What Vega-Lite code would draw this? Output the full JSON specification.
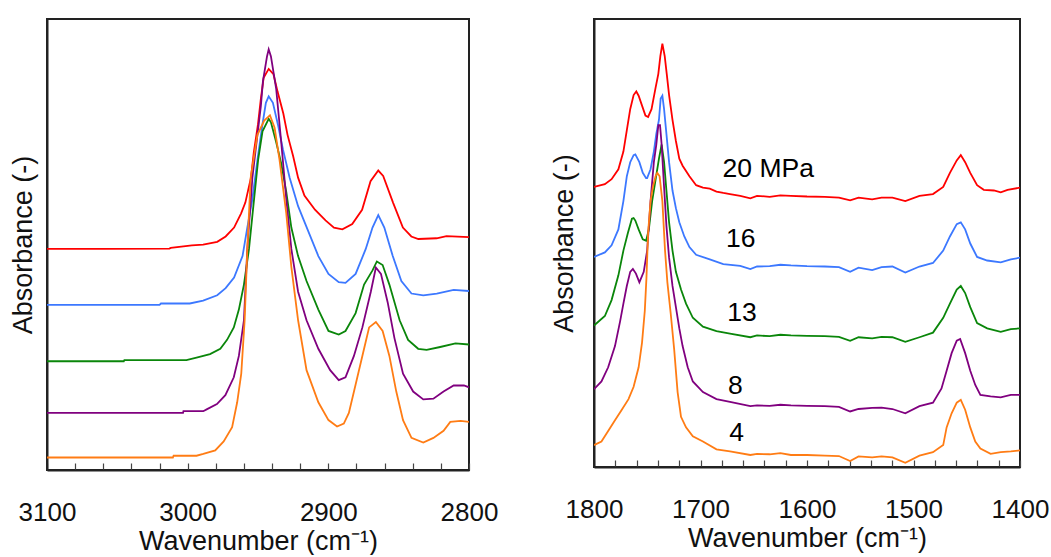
{
  "$schema": "https://vega.github.io/schema/vega-lite/v6.json",
  "padding": {"left": 8, "top": 18, "right": 0, "bottom": 0},
  "spacing": 50,
  "datasets": {
    "ch": [
      {"p":"20","w":3100,"a":0.620},{"p":"20","w":3060,"a":0.620},{"p":"20","w":3013,"a":0.621},{"p":"20","w":3012,"a":0.623},{"p":"20","w":2997,"a":0.630},{"p":"20","w":2989,"a":0.632},{"p":"20","w":2979,"a":0.640},{"p":"20","w":2973,"a":0.655},{"p":"20","w":2967,"a":0.680},{"p":"20","w":2962,"a":0.720},{"p":"20","w":2959,"a":0.750},{"p":"20","w":2955,"a":0.820},{"p":"20","w":2953,"a":0.890},{"p":"20","w":2950,"a":0.970},{"p":"20","w":2948,"a":1.040},{"p":"20","w":2946,"a":1.100},{"p":"20","w":2942.4,"a":1.125},{"p":"20","w":2939,"a":1.110},{"p":"20","w":2936,"a":1.060},{"p":"20","w":2932,"a":1.000},{"p":"20","w":2929,"a":0.940},{"p":"20","w":2925,"a":0.880},{"p":"20","w":2921.5,"a":0.820},{"p":"20","w":2917,"a":0.770},{"p":"20","w":2909.5,"a":0.730},{"p":"20","w":2902,"a":0.700},{"p":"20","w":2896,"a":0.680},{"p":"20","w":2890,"a":0.675},{"p":"20","w":2883,"a":0.690},{"p":"20","w":2876,"a":0.730},{"p":"20","w":2870,"a":0.810},{"p":"20","w":2864.5,"a":0.840},{"p":"20","w":2861,"a":0.825},{"p":"20","w":2854,"a":0.750},{"p":"20","w":2847,"a":0.680},{"p":"20","w":2841,"a":0.655},{"p":"20","w":2836,"a":0.648},{"p":"20","w":2823,"a":0.650},{"p":"20","w":2816,"a":0.656},{"p":"20","w":2800,"a":0.653},
      {"p":"16","w":3100,"a":0.463},{"p":"16","w":3020,"a":0.463},{"p":"16","w":3019,"a":0.467},{"p":"16","w":2998.5,"a":0.467},{"p":"16","w":2989,"a":0.475},{"p":"16","w":2979,"a":0.490},{"p":"16","w":2973,"a":0.510},{"p":"16","w":2967,"a":0.540},{"p":"16","w":2961,"a":0.600},{"p":"16","w":2957.6,"a":0.680},{"p":"16","w":2954,"a":0.760},{"p":"16","w":2950.4,"a":0.870},{"p":"16","w":2946.8,"a":0.970},{"p":"16","w":2944.4,"a":1.030},{"p":"16","w":2942.4,"a":1.048},{"p":"16","w":2939.4,"a":1.030},{"p":"16","w":2935.9,"a":0.970},{"p":"16","w":2932.3,"a":0.900},{"p":"16","w":2927.5,"a":0.820},{"p":"16","w":2921.5,"a":0.740},{"p":"16","w":2914.3,"a":0.670},{"p":"16","w":2907.1,"a":0.600},{"p":"16","w":2899.9,"a":0.550},{"p":"16","w":2892.6,"a":0.527},{"p":"16","w":2887.8,"a":0.525},{"p":"16","w":2880.6,"a":0.550},{"p":"16","w":2873.4,"a":0.620},{"p":"16","w":2868.6,"a":0.680},{"p":"16","w":2864.5,"a":0.715},{"p":"16","w":2860.2,"a":0.680},{"p":"16","w":2854.2,"a":0.600},{"p":"16","w":2848.1,"a":0.530},{"p":"16","w":2840.9,"a":0.495},{"p":"16","w":2832.5,"a":0.490},{"p":"16","w":2822.9,"a":0.495},{"p":"16","w":2810.9,"a":0.505},{"p":"16","w":2800,"a":0.502},
      {"p":"13","w":3100,"a":0.305},{"p":"13","w":3045.4,"a":0.305},{"p":"13","w":3045,"a":0.308},{"p":"13","w":3000.9,"a":0.308},{"p":"13","w":2993.7,"a":0.315},{"p":"13","w":2984.1,"a":0.325},{"p":"13","w":2976.8,"a":0.340},{"p":"13","w":2972,"a":0.365},{"p":"13","w":2967.2,"a":0.400},{"p":"13","w":2963.6,"a":0.450},{"p":"13","w":2960,"a":0.520},{"p":"13","w":2956.4,"a":0.620},{"p":"13","w":2953.3,"a":0.740},{"p":"13","w":2949.9,"a":0.870},{"p":"13","w":2946.8,"a":0.950},{"p":"13","w":2942.4,"a":0.985},{"p":"13","w":2940.8,"a":0.975},{"p":"13","w":2937.1,"a":0.920},{"p":"13","w":2933.5,"a":0.860},{"p":"13","w":2929.9,"a":0.780},{"p":"13","w":2926.3,"a":0.680},{"p":"13","w":2921.5,"a":0.600},{"p":"13","w":2915.5,"a":0.530},{"p":"13","w":2907.1,"a":0.450},{"p":"13","w":2899.9,"a":0.390},{"p":"13","w":2892.6,"a":0.380},{"p":"13","w":2887.8,"a":0.390},{"p":"13","w":2880.6,"a":0.440},{"p":"13","w":2874.6,"a":0.520},{"p":"13","w":2868.6,"a":0.560},{"p":"13","w":2865.5,"a":0.585},{"p":"13","w":2861.4,"a":0.575},{"p":"13","w":2856.6,"a":0.520},{"p":"13","w":2849.3,"a":0.420},{"p":"13","w":2843.3,"a":0.365},{"p":"13","w":2836.1,"a":0.340},{"p":"13","w":2830.1,"a":0.337},{"p":"13","w":2820.5,"a":0.345},{"p":"13","w":2809.6,"a":0.355},{"p":"13","w":2800,"a":0.352},
      {"p":"8","w":3100,"a":0.160},{"p":"8","w":3003.3,"a":0.160},{"p":"8","w":3003,"a":0.165},{"p":"8","w":2988.9,"a":0.165},{"p":"8","w":2986.5,"a":0.170},{"p":"8","w":2979.2,"a":0.185},{"p":"8","w":2973.2,"a":0.210},{"p":"8","w":2967.2,"a":0.260},{"p":"8","w":2963.6,"a":0.320},{"p":"8","w":2960,"a":0.420},{"p":"8","w":2957.6,"a":0.620},{"p":"8","w":2954,"a":0.820},{"p":"8","w":2948,"a":1.020},{"p":"8","w":2946.5,"a":1.090},{"p":"8","w":2943.6,"a":1.160},{"p":"8","w":2942.4,"a":1.180},{"p":"8","w":2940.8,"a":1.160},{"p":"8","w":2937.1,"a":1.070},{"p":"8","w":2933.5,"a":0.920},{"p":"8","w":2929.9,"a":0.760},{"p":"8","w":2926.3,"a":0.620},{"p":"8","w":2921.5,"a":0.500},{"p":"8","w":2915.5,"a":0.420},{"p":"8","w":2907.1,"a":0.340},{"p":"8","w":2898.7,"a":0.280},{"p":"8","w":2892.6,"a":0.252},{"p":"8","w":2887.8,"a":0.260},{"p":"8","w":2881.8,"a":0.320},{"p":"8","w":2875.8,"a":0.400},{"p":"8","w":2869.8,"a":0.500},{"p":"8","w":2866.2,"a":0.568},{"p":"8","w":2862.6,"a":0.550},{"p":"8","w":2857.8,"a":0.470},{"p":"8","w":2853,"a":0.370},{"p":"8","w":2846.9,"a":0.270},{"p":"8","w":2839.7,"a":0.220},{"p":"8","w":2832.5,"a":0.198},{"p":"8","w":2825.3,"a":0.200},{"p":"8","w":2818.1,"a":0.220},{"p":"8","w":2810.9,"a":0.237},{"p":"8","w":2803.6,"a":0.237},{"p":"8","w":2800,"a":0.232},
      {"p":"4","w":3100,"a":0.035},{"p":"4","w":3010.5,"a":0.035},{"p":"4","w":3010,"a":0.040},{"p":"4","w":2993.7,"a":0.040},{"p":"4","w":2988.9,"a":0.045},{"p":"4","w":2980.4,"a":0.055},{"p":"4","w":2974.4,"a":0.080},{"p":"4","w":2968.4,"a":0.120},{"p":"4","w":2964.8,"a":0.190},{"p":"4","w":2961.9,"a":0.270},{"p":"4","w":2959.5,"a":0.420},{"p":"4","w":2957.6,"a":0.620},{"p":"4","w":2955.2,"a":0.820},{"p":"4","w":2950.4,"a":0.940},{"p":"4","w":2945.6,"a":0.980},{"p":"4","w":2941.5,"a":0.995},{"p":"4","w":2938.2,"a":0.960},{"p":"4","w":2934.7,"a":0.870},{"p":"4","w":2929.9,"a":0.720},{"p":"4","w":2926.3,"a":0.570},{"p":"4","w":2921.5,"a":0.420},{"p":"4","w":2915.5,"a":0.280},{"p":"4","w":2907.1,"a":0.190},{"p":"4","w":2899.9,"a":0.140},{"p":"4","w":2893.8,"a":0.122},{"p":"4","w":2889,"a":0.130},{"p":"4","w":2885.4,"a":0.160},{"p":"4","w":2880.6,"a":0.240},{"p":"4","w":2874.6,"a":0.340},{"p":"4","w":2871,"a":0.400},{"p":"4","w":2866.2,"a":0.415},{"p":"4","w":2861.4,"a":0.390},{"p":"4","w":2856.6,"a":0.320},{"p":"4","w":2851.7,"a":0.220},{"p":"4","w":2846.9,"a":0.140},{"p":"4","w":2840.9,"a":0.090},{"p":"4","w":2832.5,"a":0.077},{"p":"4","w":2825.3,"a":0.090},{"p":"4","w":2818.1,"a":0.110},{"p":"4","w":2813.3,"a":0.135},{"p":"4","w":2806,"a":0.138},{"p":"4","w":2800,"a":0.135}
    ],
    "co": [
      {"p":"20","w":1800,"a":0.792},{"p":"20","w":1789.8,"a":0.800},{"p":"20","w":1783.5,"a":0.814},{"p":"20","w":1777.1,"a":0.842},{"p":"20","w":1772.4,"a":0.892},{"p":"20","w":1769.2,"a":0.952},{"p":"20","w":1766.0,"a":1.012},{"p":"20","w":1762.8,"a":1.052},{"p":"20","w":1760.3,"a":1.062},{"p":"20","w":1758.1,"a":1.050},{"p":"20","w":1754.9,"a":1.022},{"p":"20","w":1751.7,"a":0.994},{"p":"20","w":1749.2,"a":0.990},{"p":"20","w":1746.0,"a":1.012},{"p":"20","w":1742.2,"a":1.072},{"p":"20","w":1739.6,"a":1.112},{"p":"20","w":1737.7,"a":1.162},{"p":"20","w":1735.8,"a":1.197},{"p":"20","w":1733.6,"a":1.162},{"p":"20","w":1731.7,"a":1.112},{"p":"20","w":1729.5,"a":1.052},{"p":"20","w":1726.3,"a":0.982},{"p":"20","w":1723.1,"a":0.922},{"p":"20","w":1719.9,"a":0.872},{"p":"20","w":1716.8,"a":0.852},{"p":"20","w":1710.4,"a":0.822},{"p":"20","w":1704.1,"a":0.797},{"p":"20","w":1697.7,"a":0.790},{"p":"20","w":1691.3,"a":0.787},{"p":"20","w":1685.0,"a":0.779},{"p":"20","w":1678.6,"a":0.775},{"p":"20","w":1672.3,"a":0.772},{"p":"20","w":1662.7,"a":0.767},{"p":"20","w":1653.2,"a":0.760},{"p":"20","w":1646.9,"a":0.767},{"p":"20","w":1635,"a":0.764},{"p":"20","w":1625,"a":0.768},{"p":"20","w":1615.1,"a":0.767},{"p":"20","w":1600,"a":0.765},{"p":"20","w":1583.3,"a":0.764},{"p":"20","w":1570,"a":0.762},{"p":"20","w":1559.5,"a":0.754},{"p":"20","w":1551.6,"a":0.762},{"p":"20","w":1538.8,"a":0.757},{"p":"20","w":1530,"a":0.762},{"p":"20","w":1519.8,"a":0.762},{"p":"20","w":1507.7,"a":0.752},{"p":"20","w":1494.4,"a":0.767},{"p":"20","w":1481.7,"a":0.772},{"p":"20","w":1472.1,"a":0.792},{"p":"20","w":1465.8,"a":0.832},{"p":"20","w":1459.4,"a":0.867},{"p":"20","w":1455.6,"a":0.882},{"p":"20","w":1451.5,"a":0.862},{"p":"20","w":1446.7,"a":0.832},{"p":"20","w":1440.3,"a":0.797},{"p":"20","w":1434.0,"a":0.784},{"p":"20","w":1424.5,"a":0.782},{"p":"20","w":1418.1,"a":0.777},{"p":"20","w":1411.7,"a":0.784},{"p":"20","w":1400,"a":0.790},
      {"p":"16","w":1800,"a":0.594},{"p":"16","w":1789.8,"a":0.607},{"p":"16","w":1783.5,"a":0.627},{"p":"16","w":1777.1,"a":0.672},{"p":"16","w":1772.4,"a":0.752},{"p":"16","w":1769.2,"a":0.822},{"p":"16","w":1766.0,"a":0.862},{"p":"16","w":1762.8,"a":0.882},{"p":"16","w":1761.2,"a":0.884},{"p":"16","w":1757.4,"a":0.862},{"p":"16","w":1754.2,"a":0.832},{"p":"16","w":1751.1,"a":0.817},{"p":"16","w":1750.1,"a":0.817},{"p":"16","w":1746.9,"a":0.842},{"p":"16","w":1743.8,"a":0.892},{"p":"16","w":1741.5,"a":0.942},{"p":"16","w":1739.0,"a":0.982},{"p":"16","w":1737.4,"a":1.042},{"p":"16","w":1735.8,"a":1.050},{"p":"16","w":1734.2,"a":1.012},{"p":"16","w":1732.0,"a":0.942},{"p":"16","w":1729.5,"a":0.862},{"p":"16","w":1726.3,"a":0.782},{"p":"16","w":1723.1,"a":0.732},{"p":"16","w":1719.9,"a":0.692},{"p":"16","w":1715.2,"a":0.652},{"p":"16","w":1710.4,"a":0.622},{"p":"16","w":1704.1,"a":0.600},{"p":"16","w":1691.3,"a":0.587},{"p":"16","w":1678.6,"a":0.574},{"p":"16","w":1662.7,"a":0.569},{"p":"16","w":1653.2,"a":0.560},{"p":"16","w":1646.9,"a":0.567},{"p":"16","w":1635,"a":0.568},{"p":"16","w":1625,"a":0.572},{"p":"16","w":1615.1,"a":0.570},{"p":"16","w":1600,"a":0.568},{"p":"16","w":1583.3,"a":0.567},{"p":"16","w":1570,"a":0.565},{"p":"16","w":1559.5,"a":0.552},{"p":"16","w":1551.6,"a":0.564},{"p":"16","w":1538.8,"a":0.557},{"p":"16","w":1530,"a":0.565},{"p":"16","w":1519.8,"a":0.567},{"p":"16","w":1507.7,"a":0.550},{"p":"16","w":1494.4,"a":0.567},{"p":"16","w":1481.7,"a":0.577},{"p":"16","w":1472.1,"a":0.612},{"p":"16","w":1465.8,"a":0.652},{"p":"16","w":1459.4,"a":0.687},{"p":"16","w":1455.6,"a":0.692},{"p":"16","w":1451.5,"a":0.672},{"p":"16","w":1446.7,"a":0.632},{"p":"16","w":1440.3,"a":0.594},{"p":"16","w":1430.8,"a":0.584},{"p":"16","w":1418.1,"a":0.579},{"p":"16","w":1408.6,"a":0.587},{"p":"16","w":1400,"a":0.592},
      {"p":"13","w":1800,"a":0.400},{"p":"13","w":1789.8,"a":0.427},{"p":"13","w":1783.5,"a":0.472},{"p":"13","w":1777.1,"a":0.542},{"p":"13","w":1772.4,"a":0.612},{"p":"13","w":1768.2,"a":0.662},{"p":"13","w":1764.4,"a":0.702},{"p":"13","w":1762.8,"a":0.704},{"p":"13","w":1761.2,"a":0.697},{"p":"13","w":1758.1,"a":0.672},{"p":"13","w":1754.2,"a":0.644},{"p":"13","w":1751.1,"a":0.640},{"p":"13","w":1748.5,"a":0.672},{"p":"13","w":1745.4,"a":0.752},{"p":"13","w":1742.2,"a":0.812},{"p":"13","w":1739.0,"a":0.872},{"p":"13","w":1736.5,"a":0.912},{"p":"13","w":1734.2,"a":0.862},{"p":"13","w":1732.0,"a":0.782},{"p":"13","w":1729.5,"a":0.692},{"p":"13","w":1726.3,"a":0.612},{"p":"13","w":1723.1,"a":0.552},{"p":"13","w":1718.3,"a":0.502},{"p":"13","w":1713.6,"a":0.462},{"p":"13","w":1707.2,"a":0.422},{"p":"13","w":1697.7,"a":0.397},{"p":"13","w":1685.0,"a":0.384},{"p":"13","w":1672.3,"a":0.377},{"p":"13","w":1653.2,"a":0.367},{"p":"13","w":1646.9,"a":0.372},{"p":"13","w":1635,"a":0.370},{"p":"13","w":1625,"a":0.374},{"p":"13","w":1615.1,"a":0.372},{"p":"13","w":1600,"a":0.371},{"p":"13","w":1583.3,"a":0.370},{"p":"13","w":1570,"a":0.368},{"p":"13","w":1559.5,"a":0.357},{"p":"13","w":1551.6,"a":0.367},{"p":"13","w":1538.8,"a":0.364},{"p":"13","w":1530,"a":0.368},{"p":"13","w":1519.8,"a":0.367},{"p":"13","w":1507.7,"a":0.354},{"p":"13","w":1494.4,"a":0.367},{"p":"13","w":1481.7,"a":0.380},{"p":"13","w":1472.1,"a":0.422},{"p":"13","w":1465.8,"a":0.462},{"p":"13","w":1459.4,"a":0.502},{"p":"13","w":1455.6,"a":0.512},{"p":"13","w":1451.5,"a":0.492},{"p":"13","w":1446.7,"a":0.452},{"p":"13","w":1440.3,"a":0.407},{"p":"13","w":1430.8,"a":0.392},{"p":"13","w":1418.1,"a":0.382},{"p":"13","w":1408.6,"a":0.390},{"p":"13","w":1400,"a":0.392},
      {"p":"8","w":1800,"a":0.220},{"p":"8","w":1793.0,"a":0.242},{"p":"8","w":1786.7,"a":0.282},{"p":"8","w":1780.3,"a":0.342},{"p":"8","w":1775.5,"a":0.412},{"p":"8","w":1772.4,"a":0.462},{"p":"8","w":1769.2,"a":0.512},{"p":"8","w":1766.0,"a":0.552},{"p":"8","w":1763.5,"a":0.560},{"p":"8","w":1760.6,"a":0.547},{"p":"8","w":1757.4,"a":0.522},{"p":"8","w":1753.3,"a":0.552},{"p":"8","w":1750.1,"a":0.612},{"p":"8","w":1746.9,"a":0.752},{"p":"8","w":1743.8,"a":0.862},{"p":"8","w":1741.5,"a":0.912},{"p":"8","w":1739.6,"a":0.967},{"p":"8","w":1738.0,"a":0.967},{"p":"8","w":1736.5,"a":0.912},{"p":"8","w":1734.2,"a":0.792},{"p":"8","w":1732.0,"a":0.682},{"p":"8","w":1729.5,"a":0.592},{"p":"8","w":1726.3,"a":0.512},{"p":"8","w":1723.1,"a":0.452},{"p":"8","w":1719.9,"a":0.392},{"p":"8","w":1716.8,"a":0.342},{"p":"8","w":1712.0,"a":0.282},{"p":"8","w":1707.2,"a":0.242},{"p":"8","w":1697.7,"a":0.212},{"p":"8","w":1685.0,"a":0.192},{"p":"8","w":1672.3,"a":0.184},{"p":"8","w":1653.2,"a":0.172},{"p":"8","w":1646.9,"a":0.174},{"p":"8","w":1635,"a":0.173},{"p":"8","w":1625,"a":0.176},{"p":"8","w":1615.1,"a":0.174},{"p":"8","w":1600,"a":0.173},{"p":"8","w":1583.3,"a":0.172},{"p":"8","w":1570,"a":0.170},{"p":"8","w":1559.5,"a":0.157},{"p":"8","w":1551.6,"a":0.164},{"p":"8","w":1538.8,"a":0.167},{"p":"8","w":1530,"a":0.168},{"p":"8","w":1519.8,"a":0.164},{"p":"8","w":1507.7,"a":0.152},{"p":"8","w":1494.4,"a":0.172},{"p":"8","w":1481.7,"a":0.182},{"p":"8","w":1473.7,"a":0.222},{"p":"8","w":1468.9,"a":0.272},{"p":"8","w":1464.2,"a":0.322},{"p":"8","w":1459.4,"a":0.357},{"p":"8","w":1456.2,"a":0.362},{"p":"8","w":1451.5,"a":0.322},{"p":"8","w":1446.7,"a":0.272},{"p":"8","w":1442.0,"a":0.232},{"p":"8","w":1437.2,"a":0.204},{"p":"8","w":1427.6,"a":0.200},{"p":"8","w":1418.1,"a":0.197},{"p":"8","w":1408.6,"a":0.204},{"p":"8","w":1400,"a":0.204},
      {"p":"4","w":1800,"a":0.062},{"p":"4","w":1793.0,"a":0.072},{"p":"4","w":1786.7,"a":0.102},{"p":"4","w":1780.3,"a":0.132},{"p":"4","w":1773.9,"a":0.162},{"p":"4","w":1767.6,"a":0.192},{"p":"4","w":1762.8,"a":0.227},{"p":"4","w":1758.1,"a":0.282},{"p":"4","w":1754.9,"a":0.352},{"p":"4","w":1752.3,"a":0.442},{"p":"4","w":1750.8,"a":0.532},{"p":"4","w":1749.2,"a":0.662},{"p":"4","w":1746.9,"a":0.752},{"p":"4","w":1744.7,"a":0.792},{"p":"4","w":1742.2,"a":0.822},{"p":"4","w":1740.6,"a":0.832},{"p":"4","w":1738.4,"a":0.822},{"p":"4","w":1735.8,"a":0.752},{"p":"4","w":1733.3,"a":0.612},{"p":"4","w":1731.1,"a":0.522},{"p":"4","w":1727.9,"a":0.432},{"p":"4","w":1724.7,"a":0.332},{"p":"4","w":1721.5,"a":0.212},{"p":"4","w":1718.3,"a":0.142},{"p":"4","w":1713.6,"a":0.112},{"p":"4","w":1707.2,"a":0.087},{"p":"4","w":1697.7,"a":0.072},{"p":"4","w":1685.0,"a":0.050},{"p":"4","w":1672.3,"a":0.044},{"p":"4","w":1653.2,"a":0.034},{"p":"4","w":1646.9,"a":0.037},{"p":"4","w":1635,"a":0.036},{"p":"4","w":1625,"a":0.039},{"p":"4","w":1615.1,"a":0.034},{"p":"4","w":1600,"a":0.034},{"p":"4","w":1583.3,"a":0.032},{"p":"4","w":1570,"a":0.031},{"p":"4","w":1559.5,"a":0.017},{"p":"4","w":1551.6,"a":0.030},{"p":"4","w":1538.8,"a":0.027},{"p":"4","w":1530,"a":0.030},{"p":"4","w":1519.8,"a":0.027},{"p":"4","w":1507.7,"a":0.012},{"p":"4","w":1494.4,"a":0.032},{"p":"4","w":1481.7,"a":0.042},{"p":"4","w":1472.1,"a":0.062},{"p":"4","w":1468.9,"a":0.112},{"p":"4","w":1464.2,"a":0.152},{"p":"4","w":1459.4,"a":0.182},{"p":"4","w":1455.6,"a":0.190},{"p":"4","w":1451.5,"a":0.162},{"p":"4","w":1446.7,"a":0.112},{"p":"4","w":1442.0,"a":0.072},{"p":"4","w":1437.2,"a":0.052},{"p":"4","w":1427.6,"a":0.037},{"p":"4","w":1418.1,"a":0.042},{"p":"4","w":1408.6,"a":0.044},{"p":"4","w":1400,"a":0.047}
    ],
    "labels": [
      {"w":1679.3,"a":0.842,"t":"20 MPa"},
      {"w":1676.1,"a":0.644,"t":"16"},
      {"w":1674.8,"a":0.436,"t":"13"},
      {"w":1674.2,"a":0.230,"t":"8"},
      {"w":1672.9,"a":0.096,"t":"4"}
    ]
  },
  "hconcat": [
    {
      "width": 422,
      "height": 451,
      "data": {"name": "ch"},
      "mark": {"type": "line", "strokeWidth": 1.8, "clip": true},
      "encoding": {
        "x": {"field": "w", "type": "quantitative",
              "scale": {"domain": [2800, 3100], "reverse": true, "nice": false, "zero": false},
              "axis": {"title": "Wavenumber (cm⁻¹)", "values": [2800,2820,2840,2860,2880,2900,2920,2940,2960,2980,3000,3020,3040,3060,3080,3100],
                       "format": "d", "labelOverlap": false, "labelExpr": "datum.value % 100 === 0 ? datum.label : ''"}},
        "y": {"field": "a", "type": "quantitative",
              "scale": {"domain": [0, 1.265], "nice": false, "zero": false},
              "axis": {"title": "Absorbance (-)", "labels": false, "ticks": false, "titlePadding": 10}},
        "color": {"field": "p", "type": "nominal",
                  "scale": {"domain": ["20","16","13","8","4"], "range": ["#ff0000","#3c78ff","#0a860a","#80007f","#ff7c14"]},
                  "legend": null}
      }
    },
    {
      "width": 426,
      "height": 448,
      "encoding": {
        "x": {"field": "w", "type": "quantitative",
              "scale": {"domain": [1400, 1800], "reverse": true, "nice": false, "zero": false},
              "axis": {"title": "Wavenumber (cm⁻¹)", "values": [1400,1420,1440,1460,1480,1500,1520,1540,1560,1580,1600,1620,1640,1660,1680,1700,1720,1740,1760,1780,1800],
                       "format": "d", "labelOverlap": false, "labelExpr": "datum.value % 100 === 0 ? datum.label : ''"}},
        "y": {"field": "a", "type": "quantitative",
              "scale": {"domain": [0, 1.267], "nice": false, "zero": false},
              "axis": {"title": "Absorbance (-)", "labels": false, "ticks": false, "titlePadding": 16}}
      },
      "layer": [
        {
          "data": {"name": "co"},
          "mark": {"type": "line", "strokeWidth": 1.8, "clip": true},
          "encoding": {
            "color": {"field": "p", "type": "nominal",
                      "scale": {"domain": ["20","16","13","8","4"], "range": ["#ff0000","#3c78ff","#0a860a","#80007f","#ff7c14"]},
                      "legend": null}
          }
        },
        {
          "data": {"name": "labels"},
          "mark": {"type": "text", "align": "left", "baseline": "middle", "fontSize": 26.5, "font": "Liberation Sans", "color": "black"},
          "encoding": {
            "text": {"field": "t"}
          }
        }
      ]
    }
  ],
  "resolve": {"scale": {"color": "shared"}},
  "config": {
    "font": "Liberation Sans",
    "view": {"stroke": "#222", "strokeWidth": 2},
    "axis": {
      "grid": false,
      "domainColor": "#222",
      "domainWidth": 2,
      "tickColor": "#444",
      "tickSize": -7,
      "tickWidth": 1.2,
      "labelFont": "Liberation Sans",
      "labelFontSize": 26,
      "labelColor": "#111",
      "labelPadding": 36,
      "labelOverlap": false,
      "labelFlush": false,
      "labelBound": false,
      "titleFont": "Liberation Sans",
      "titleFontSize": 27,
      "titleFontWeight": "normal",
      "titleColor": "#111",
      "titlePadding": 3
    }
  }
}
